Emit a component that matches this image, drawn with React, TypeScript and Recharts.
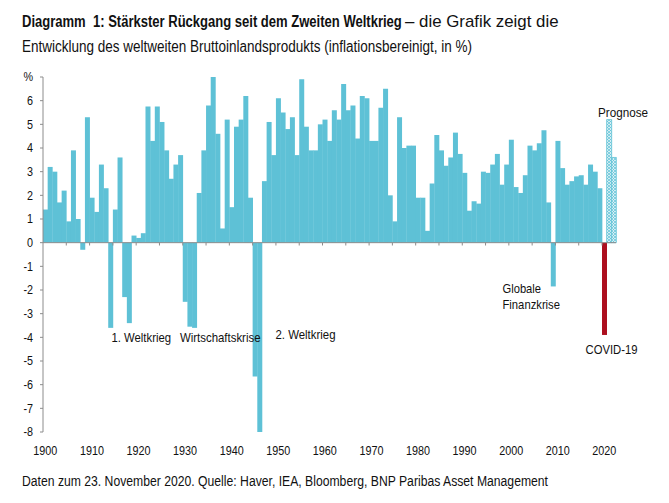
import { BarChart, Bar, XAxis, YAxis, ReferenceLine } from "recharts";

const FONT = "'Liberation Sans', Arial, sans-serif";

// jährliches Wachstum des Welt-BIP, 1900-2019 (in %)
const firstYear = 1900;
const growthHist = [
    1.4, 3.2, 3.0, 1.7, 2.2, 0.9, 3.9, 1.0, -0.3, 5.3,
    1.9, 1.3, 3.3, 2.3, -3.6, 1.4, 3.6, -2.3, -3.4, 0.3,
    0.2, 0.4, 5.75, 4.3, 5.75, 5.1, 3.9, 2.7, 3.3, 3.7,
    -2.5, -3.55, -3.6, 2.1, 3.9, 5.8, 7.0, 4.6, 0.6, 5.2,
    1.5, 4.9, 5.2, 6.2, 1.9, -5.65, -8.0, 2.6, 5.1, 3.7,
    6.1, 5.5, 4.8, 5.3, 3.7, 6.9, 4.9, 3.9, 3.9, 5.0,
    5.2, 4.3, 5.6, 5.2, 6.7, 5.6, 5.8, 4.4, 6.2, 6.1,
    4.3, 4.3, 5.7, 6.5, 2.0, 0.9, 5.3, 4.0, 4.1, 4.1,
    1.9, 1.9, 0.5, 2.5, 4.55, 3.9, 3.25, 3.6, 4.65, 3.75,
    2.95, 1.35, 1.75, 1.65, 3.0, 2.95, 3.3, 3.75, 2.45, 3.3,
    4.35, 2.35, 2.1, 2.85, 4.1, 3.9, 4.2, 4.75, 1.7, -1.85,
    4.3, 3.15, 2.45, 2.6, 2.8, 2.85, 2.45, 3.3, 3.0, 2.3,
];
const covid2020 = [-3.9];
const prognose = [5.2, 3.6]; // 2021, 2022

const decadeTicks = [1900, 1910, 1920, 1930, 1940, 1950, 1960, 1970, 1980, 1990, 2000, 2010, 2020];
const yTicks = [-8, -7, -6, -5, -4, -3, -2, -1, 0, 1, 2, 3, 4, 5, 6, 7];
const fiveYearMarks = [1905, 1910, 1915, 1920, 1925, 1930, 1935, 1940, 1945, 1950, 1955, 1960,
    1965, 1970, 1975, 1980, 1985, 1990, 1995, 2000, 2005, 2010, 2015, 2020];

const rows = [
    ...growthHist.map((v) => ({ hist: v })),
    ...covid2020.map((v) => ({ covid: v })),
    ...prognose.map((v) => ({ prog: v })),
].map((r, i) => ({ year: firstYear + i, ...r }));

const CYAN = "#5ec1d6";
const RED = "#ad0f1f";
const GREY = "#8c8c8c";
const INK = "#111";
const SQUEEZE = 0.9; // Schrift im Original ist eine Narrow-Variante

const XTick = ({ x, y, payload }: any) => (
    <text transform={`translate(${x},${y}) scale(${SQUEEZE},1)`} textAnchor="middle" dy="0.71em"
        fontSize={12} fill={INK} fontFamily={FONT}>
        {payload.value}
    </text>
);

const YTick = ({ x, y, payload }: any) => (
    <text transform={`translate(${x},${y}) scale(${SQUEEZE},1)`} textAnchor="end" dy="0.355em"
        fontSize={12} fill={INK} fontFamily={FONT}>
        {payload.value === 7 ? "%" : String(payload.value)}
    </text>
);

// Text mit fester Breite, damit er wie die schmale Originalschrift läuft
const NText = ({ x, y, w, size = 13, bold = false, children }: any) => (
    <text x={x} y={y} textLength={w} lengthAdjust="spacingAndGlyphs" fontSize={size}
        fontWeight={bold ? "bold" : "normal"} style={{ whiteSpace: "pre" }}>
        {children}
    </text>
);

export default function App() {
    return (
        <div style={{ position: "relative", width: 669, height: 503, margin: -8, fontFamily: FONT }}>
            <BarChart
                width={669}
                height={503}
                data={rows}
                margin={{ top: 77, right: 53, bottom: 41, left: 0 }}
                barCategoryGap={0}
                barGap={0}
            >
                <defs>
                    <pattern id="progPattern" width="3" height="3" patternUnits="userSpaceOnUse">
                        <rect width="3" height="3" fill="#d6eff5" />
                        <path d="M0,0 L3,3 M3,0 L0,3" stroke={CYAN} strokeWidth={0.7} />
                    </pattern>
                </defs>
                <XAxis
                    dataKey="year"
                    type="category"
                    ticks={decadeTicks}
                    interval={0}
                    axisLine={false}
                    tickLine={false}
                    tickSize={6}
                    tickMargin={8}
                    height={30}
                    tick={<XTick />}
                />
                <YAxis
                    type="number"
                    domain={[-8, 7]}
                    ticks={yTicks}
                    interval={0}
                    width={43}
                    tickSize={3}
                    tickMargin={7}
                    axisLine={{ stroke: GREY }}
                    tickLine={{ stroke: GREY }}
                    tick={<YTick />}
                />
                <Bar dataKey="hist" stackId="a" fill={CYAN} isAnimationActive={false} />
                <Bar dataKey="covid" stackId="a" fill={RED} isAnimationActive={false} />
                <Bar dataKey="prog" stackId="a" fill="url(#progPattern)" stroke={CYAN} strokeWidth={0.8} isAnimationActive={false} />
                <ReferenceLine y={0} stroke={GREY} strokeWidth={1} />
                {fiveYearMarks.map((yr) => (
                    <ReferenceLine
                        key={yr}
                        position="start"
                        segment={[{ x: yr, y: 0 }, { x: yr, y: -0.12 }]}
                        stroke={GREY}
                        strokeWidth={1}
                    />
                ))}
            </BarChart>

            <svg
                width={669}
                height={503}
                style={{ position: "absolute", left: 0, top: 0, pointerEvents: "none" }}
                fontFamily={FONT}
                fill={INK}
            >
                {/* Titel in zwei Teilen, jeweils horizontal an die Vorlage angepasst */}
                <text transform="translate(22,27) scale(0.815,1)" fontSize={16} fontWeight="bold"
                    style={{ whiteSpace: "pre" }}>
                    Diagramm  1: Stärkster Rückgang seit dem Zweiten Weltkrieg
                </text>
                <text transform="translate(405,27) scale(1.054,1)" fontSize={16}>
                    – die Grafik zeigt die
                </text>
                <NText x={22} y={52} w={450} size={16}>Entwicklung des weltweiten Bruttoinlandsprodukts (inflationsbereinigt, in %)</NText>

                <NText x={111.5} y={342} w={59.5}>1. Weltkrieg</NText>
                <NText x={180} y={342} w={80.5}>Wirtschaftskrise</NText>
                <NText x={275.5} y={339} w={60}>2. Weltkrieg</NText>
                <NText x={502.5} y={292.5} w={38.5}>Globale</NText>
                <NText x={502.5} y={308.5} w={57.5}>Finanzkrise</NText>
                <NText x={585.5} y={353.5} w={52}>COVID-19</NText>
                <NText x={598} y={117} w={50}>Prognose</NText>

                <NText x={22} y={486} w={526} size={14}>Daten zum 23. November 2020. Quelle: Haver, IEA, Bloomberg, BNP Paribas Asset Management</NText>
            </svg>
        </div>
    );
}
